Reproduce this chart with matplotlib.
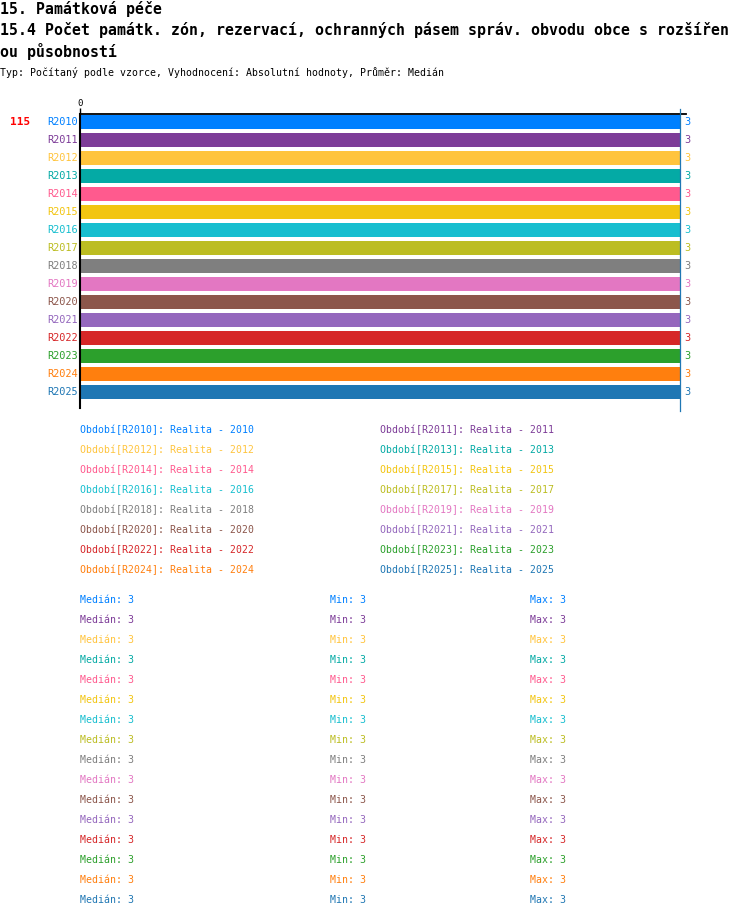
import matplotlib
matplotlib.use('Agg')
import matplotlib.pyplot as plt

# data
periods = ['R2010', 'R2011', 'R2012', 'R2013', 'R2014', 'R2015', 'R2016', 'R2017',
           'R2018', 'R2019', 'R2020', 'R2021', 'R2022', 'R2023', 'R2024', 'R2025']
realita = ['Realita - 2010', 'Realita - 2011', 'Realita - 2012', 'Realita - 2013',
           'Realita - 2014', 'Realita - 2015', 'Realita - 2016', 'Realita - 2017',
           'Realita - 2018', 'Realita - 2019', 'Realita - 2020', 'Realita - 2021',
           'Realita - 2022', 'Realita - 2023', 'Realita - 2024', 'Realita - 2025']
values = [3, 3, 3, 3, 3, 3, 3, 3, 3, 3, 3, 3, 3, 3, 3, 3]
medians = [3, 3, 3, 3, 3, 3, 3, 3, 3, 3, 3, 3, 3, 3, 3, 3]
mins = [3, 3, 3, 3, 3, 3, 3, 3, 3, 3, 3, 3, 3, 3, 3, 3]
maxs = [3, 3, 3, 3, 3, 3, 3, 3, 3, 3, 3, 3, 3, 3, 3, 3]
median_all = 3
unit_code = '115'
colors = ['#0080ff', '#7d3c98', '#ffc43d', '#04aaa5', '#ff5a8e', '#f2c511',
          '#17becf', '#bcbd22', '#7f7f7f', '#e377c2', '#8c564b', '#9467bd',
          '#d62728', '#2ca02c', '#ff7f0e', '#1f77b4']

title1 = '15. Památková péče'
title2 = '15.4 Počet památk. zón, rezervací, ochranných pásem správ. obvodu obce s rozšířen'
title3 = 'ou působností'
subtitle = 'Typ: Počítaný podle vzorce, Vyhodnocení: Absolutní hodnoty, Průměr: Medián'

W, H = 750, 918
MONO = 'DejaVu Sans Mono'

def fx(x):
    return x / W

def fy(y):
    return 1 - y / H

fig = plt.figure(figsize=(W / 100, H / 100), dpi=100)

# bar area: 0 at x=80, 3 at x=680, rows every 18px starting at y=122
ax = fig.add_axes([fx(80), fy(408), fx(686) - fx(80), (408 - 114) / H])
ypos = list(range(len(periods)))
ax.barh(ypos, values, height=0.83, color=colors, zorder=2)
ax.set_xlim(0, 3 * (686 - 80) / 600)
ax.set_ylim(15.89, -0.444)
ax.axvline(median_all, ymin=-0.01, ymax=1.017, color='#1f77b4', lw=0.9,
           clip_on=False, zorder=3)

for sp in ['right', 'bottom']:
    ax.spines[sp].set_visible(False)
ax.spines['left'].set_linewidth(1.5)
ax.spines['top'].set_linewidth(1.3)
ax.xaxis.tick_top()
ax.set_xticks([0])
ax.set_xticklabels(['0'], fontfamily=MONO, fontsize=6.5)
ax.tick_params(axis='x', length=4, width=1, pad=0.5)
ax.set_yticks([])

for i, p in enumerate(periods):
    ax.text(-0.01, i, p, ha='right', va='center', color=colors[i],
            fontfamily=MONO, fontsize=7.4)
    ax.text(values[i] + 0.02, i, str(values[i]), ha='left', va='center',
            color=colors[i], fontfamily=MONO, fontsize=7.4)

fig.text(fx(10), fy(122), unit_code, color='red', fontweight='bold',
         fontfamily=MONO, fontsize=8, ha='left', va='center')

# titles
fig.text(fx(0), fy(9), title1, fontfamily=MONO, fontweight='bold', fontsize=10.75,
         ha='left', va='center')
fig.text(fx(0), fy(30), title2, fontfamily=MONO, fontweight='bold', fontsize=10.75,
         ha='left', va='center')
fig.text(fx(0), fy(52), title3, fontfamily=MONO, fontweight='bold', fontsize=10.75,
         ha='left', va='center')
fig.text(fx(0), fy(73), subtitle, fontfamily=MONO, fontsize=7.1,
         ha='left', va='center')

# legend, two columns
for i, p in enumerate(periods):
    col = i % 2
    row = i // 2
    x = 80 if col == 0 else 380
    y = 430 + 20 * row
    fig.text(fx(x), fy(y), 'Období[' + p + ']: ' + realita[i], color=colors[i],
             fontfamily=MONO, fontsize=7.15, ha='left', va='center')

# statistics
for i, p in enumerate(periods):
    y = 600 + 20 * i
    fig.text(fx(80), fy(y), 'Medián: ' + str(medians[i]), color=colors[i],
             fontfamily=MONO, fontsize=7.15, ha='left', va='center')
    fig.text(fx(330), fy(y), 'Min: ' + str(mins[i]), color=colors[i],
             fontfamily=MONO, fontsize=7.15, ha='left', va='center')
    fig.text(fx(530), fy(y), 'Max: ' + str(maxs[i]), color=colors[i],
             fontfamily=MONO, fontsize=7.15, ha='left', va='center')

fig.savefig('out.png', dpi=100)
